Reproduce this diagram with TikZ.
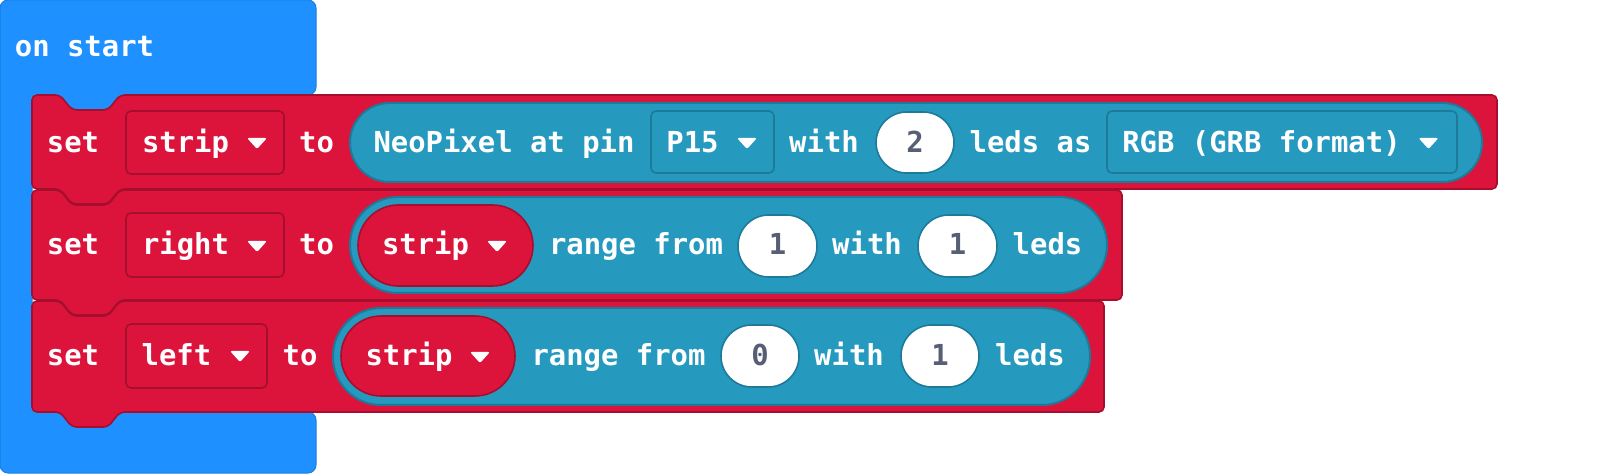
\documentclass[tikz,border=0pt]{standalone}
\usepackage{fontspec}
\setmonofont{DejaVu Sans Mono}
\definecolor{startblue}{HTML}{1E90FF}
\definecolor{startdark}{HTML}{1A7FE0}
\definecolor{varred}{HTML}{DC143C}
\definecolor{vardark}{HTML}{A50F2D}
\definecolor{neoteal}{HTML}{2699BF}
\definecolor{neodark}{HTML}{1E7A99}
\definecolor{numgray}{HTML}{575E75}
\begin{document}
\begin{tikzpicture}[x=0.5pt,y=-0.5pt,line join=round,
	txt/.style={anchor=base,inner sep=0pt,text=white,font=\ttfamily\bfseries\fontsize{14.45}{17}\selectfont},
	num/.style={txt,text=numgray},
	onstart/.style={fill=startblue,draw=startdark,line width=0.5pt,rounded corners=4pt},
	stack/.style={fill=varred,draw=vardark,line width=0.8pt,rounded corners=2.5pt},
	varbox/.style={fill=varred,draw=vardark,line width=0.8pt,rounded corners=2.5pt},
	varpill/.style={fill=varred,draw=vardark,line width=0.8pt},
	neo/.style={fill=neoteal,draw=neodark,line width=1pt},
	neobox/.style={fill=neoteal,draw=neodark,line width=0.8pt,rounded corners=2.5pt},
	oval/.style={fill=white,draw=neodark,line width=0.8pt,rounded corners=15.4pt}]
	\useasboundingbox (0,0) rectangle (1600,475);
	\def\setblock#1#2#3{\draw[stack] (32,#1) -- (60,#1) -- (72,#1+15) -- (108,#1+15) -- (120,#1) -- (#3,#1) -- (#3,#2) -- (120,#2) -- (108,#2+15) -- (72,#2+15) -- (60,#2) -- (32,#2) -- cycle;}
	\def\dropmark(#1,#2){\fill[white,rounded corners=1pt] ({#1-10},{#2-5}) -- ({#1+10},{#2-5}) -- (#1,{#2+6}) -- cycle;}
	% on start
	\draw[onstart] (0,0) -- (316,0) -- (316,95) -- (120,95) -- (108,110) -- (72,110) -- (60,95) -- (32,95) -- (32,412) -- (316,412) -- (316,473) -- (0,473) -- cycle;
	\node[txt] (onstart) at (84.5,57) {on start};
	% set blocks
	\setblock{301}{412}{1104}
	\setblock{190}{300}{1122}
	\setblock{95}{189}{1497}
	\foreach \y/\n in {153/1,255/2,366/3}
	{
		\node[txt] (set\n) at (73,\y) {set};
	}
	% strip
	\draw[varbox] (126,111) rectangle (284,174);
	\node[txt] (strip1) at (185.5,153) {strip};
	\dropmark(257,143)
	\node[txt] (to1) at (316.5,153) {to};
	\draw[neo,rounded corners=19.75pt] (350,103) rectangle (1482,182);
	\node[txt] (neopixel) at (504,153) {NeoPixel at pin};
	\draw[neobox] (651,111) rectangle (774,173);
	\node[txt] (pin) at (692.5,153) {P15};
	\dropmark(747,143)
	\node[txt] (with1) at (824,153) {with};
	\draw[oval] (876,112) rectangle (954,173);
	\node[num] (count1) at (915,153) {2};
	\node[txt] (ledsas) at (1030.5,153) {leds as};
	\draw[neobox] (1107,111) rectangle (1457,173);
	\node[txt] (format) at (1261.5,153) {RGB (GRB format)};
	\dropmark(1428.5,143)
	% right
	\draw[varbox] (126,213) rectangle (284,277);
	\node[txt] (right) at (185.5,255) {right};
	\dropmark(257,246)
	\node[txt] (to2) at (316.5,255) {to};
	\draw[neo,rounded corners=24pt] (350,197) rectangle (1107,293);
	\draw[varpill,rounded corners=20.25pt] (358,205) rectangle (533,286);
	\node[txt] (strip2) at (425.5,255) {strip};
	\dropmark(497,246)
	\node[txt] (range2) at (636,255) {range from};
	\draw[oval] (738,215) rectangle (817,277);
	\node[num] (from2) at (777.5,255) {1};
	\node[txt] (with2) at (867,255) {with};
	\draw[oval] (918,215) rectangle (997,277);
	\node[num] (count2) at (957.5,255) {1};
	\node[txt] (leds2) at (1047.5,255) {leds};
	% left
	\draw[varbox] (126,324) rectangle (267,388);
	\node[txt] (left) at (176.5,366) {left};
	\dropmark(240,356)
	\node[txt] (to3) at (300,366) {to};
	\draw[neo,rounded corners=24pt] (333,308) rectangle (1090,405);
	\draw[varpill,rounded corners=20pt] (341,316) rectangle (515,396);
	\node[txt] (strip3) at (409,366) {strip};
	\dropmark(480,357)
	\node[txt] (range3) at (618.5,366) {range from};
	\draw[oval] (721,325) rectangle (799,387);
	\node[num] (from3) at (760,366) {0};
	\node[txt] (with3) at (849,366) {with};
	\draw[oval] (901,325) rectangle (979,387);
	\node[num] (count3) at (940,366) {1};
	\node[txt] (leds3) at (1030,366) {leds};
\end{tikzpicture}
\end{document}
